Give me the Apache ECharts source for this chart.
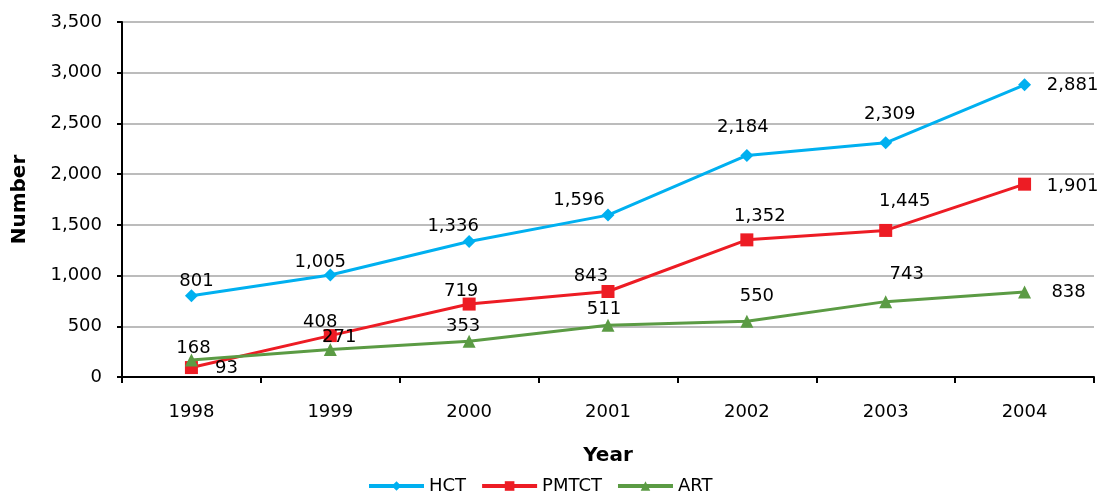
<!DOCTYPE html>
<html>
<head>
<meta charset="utf-8">
<script src="https://cdn.jsdelivr.net/npm/echarts@6/dist/echarts.min.js"></script>
<style>
  html, body { margin: 0; padding: 0; background: #fff; }
  #chart { width: 1103px; height: 497px; }
</style>
</head>
<body>
<div id="chart"></div>
<script>
// Counts per year for each service
const years = ['1998', '1999', '2000', '2001', '2002', '2003', '2004'];
const hct = [801, 1005, 1336, 1596, 2184, 2309, 2881];
const pmtct = [93, 408, 719, 843, 1352, 1445, 1901];
const art = [168, 271, 353, 511, 550, 743, 838];

// Label nudges (px, relative to each marker centre) so labels clear the lines
const hctLabelShift = [[5, -14], [-10, -13], [-16, -15], [-29, -15], [-4, -28], [4, -28], [48, 1]];
const pmtctLabelShift = [[35, 1], [-10, -13], [-8, -13], [-17, -15], [13, -24], [19, -29], [48, 2]];
const artLabelShift = [[2, -12], [9, -12], [-6, -15], [-4, -16], [10, -25], [21, -27], [44, 0]];

const FONT = '"DejaVu Sans", "Liberation Sans", Arial, sans-serif';
const fmt = v => v.toLocaleString('en-US');

function withLabels(values, shifts) {
  return values.map((v, i) => ({
    value: v,
    label: { position: 'inside', offset: shifts[i] }
  }));
}

const labelStyle = {
  show: true,
  color: '#000',
  fontFamily: FONT,
  fontSize: 18,
  align: 'center',
  verticalAlign: 'middle',
  formatter: p => fmt(p.value)
};

const chart = echarts.init(document.getElementById('chart'), null, { renderer: 'canvas' });
chart.setOption({
  animation: false,
  backgroundColor: '#fff',
  grid: { left: 122, right: 9, top: 22, bottom: 120, containLabel: false, outerBoundsMode: 'none' },
  legend: {
    top: 472,
    left: 362,
    itemWidth: 55,
    itemHeight: 12,
    itemGap: 14,
    lineStyle: { width: 4 },
    textStyle: { fontFamily: FONT, fontSize: 18, color: '#000' },
    data: ['HCT', 'PMTCT', 'ART']
  },
  xAxis: {
    type: 'category',
    data: years,
    boundaryGap: true,
    name: 'Year',
    nameLocation: 'middle',
    nameGap: 69,
    nameTextStyle: { fontFamily: FONT, fontSize: 20, fontWeight: 'bold', color: '#000' },
    axisLine: { lineStyle: { color: '#000', width: 2 } },
    axisTick: { show: true, length: 6, lineStyle: { color: '#000', width: 2 } },
    axisLabel: { fontFamily: FONT, fontSize: 18, color: '#000', margin: 26 }
  },
  yAxis: {
    type: 'value',
    min: 0,
    max: 3500,
    interval: 500,
    name: 'Number',
    nameLocation: 'middle',
    nameGap: 92,
    nameTextStyle: { fontFamily: FONT, fontSize: 20, fontWeight: 'bold', color: '#000' },
    axisLine: { show: true, lineStyle: { color: '#000', width: 2 } },
    axisTick: { show: true, length: 5, lineStyle: { color: '#000', width: 2 } },
    axisLabel: { fontFamily: FONT, fontSize: 18, color: '#000', margin: 20, formatter: v => fmt(v) },
    splitLine: { show: true, lineStyle: { color: '#a6a6a6', width: 1.5 } }
  },
  series: [
    {
      name: 'HCT', type: 'line', data: withLabels(hct, hctLabelShift),
      symbol: 'diamond', symbolSize: 13,
      itemStyle: { color: '#00b0f0' },
      lineStyle: { color: '#00b0f0', width: 3 },
      label: labelStyle, z: 3
    },
    {
      name: 'PMTCT', type: 'line', data: withLabels(pmtct, pmtctLabelShift),
      symbol: 'rect', symbolSize: 13,
      itemStyle: { color: '#ed1c24' },
      lineStyle: { color: '#ed1c24', width: 3 },
      label: labelStyle, z: 2
    },
    {
      name: 'ART', type: 'line', data: withLabels(art, artLabelShift),
      symbol: 'triangle', symbolSize: 13,
      itemStyle: { color: '#5b9b44' },
      lineStyle: { color: '#5b9b44', width: 3 },
      label: labelStyle, z: 4
    }
  ]
});
</script>
</body>
</html>
